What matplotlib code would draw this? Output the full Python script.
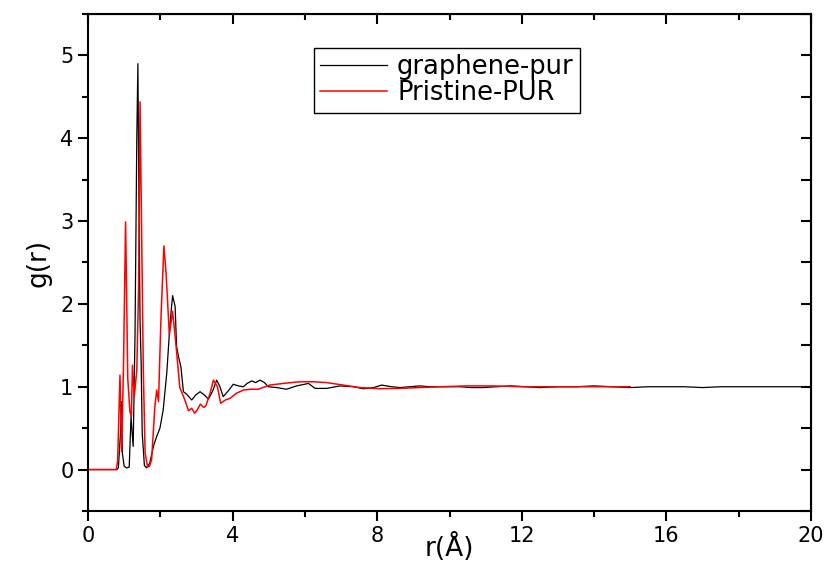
import matplotlib.pyplot as plt
from matplotlib.ticker import MultipleLocator

# radial distribution function
r_graphene = [0, 0.80, 0.84, 0.90, 0.93, 0.95, 1.00, 1.07, 1.14, 1.19, 1.22, 1.25, 1.30,
              1.35, 1.38, 1.41, 1.44, 1.47, 1.50, 1.56, 1.62, 1.71, 1.81, 1.90, 1.99, 2.08,
              2.18, 2.27, 2.34, 2.41, 2.45, 2.50, 2.57, 2.64, 2.73, 2.87, 2.98, 3.10, 3.22,
              3.33, 3.45, 3.56, 3.65, 3.74, 3.88, 4.02, 4.16, 4.30, 4.40, 4.53, 4.64, 4.76,
              4.88, 4.99, 5.22, 5.49, 5.77, 6.10, 6.28, 6.60, 6.97, 7.34, 7.62, 7.90, 8.12,
              8.40, 8.63, 8.90, 9.18, 9.45, 9.74, 10.0, 10.3, 10.6, 10.93, 11.3, 11.7, 12.1,
              12.5, 13.0, 13.5, 14.0, 14.5, 15.0, 15.5, 16.0, 16.5, 17.0, 17.5, 18.0, 18.5,
              19.0, 19.5, 20.0]
g_graphene = [0, 0, 0.02, 0.45, 0.82, 0.2, 0.04, 0.02, 0.03, 0.64, 0.45, 0.28, 1.6,
              4.0, 4.9, 3.2, 1.8, 1.29, 0.44, 0.05, 0.02, 0.08, 0.28, 0.40, 0.50, 0.72,
              1.17, 1.77, 2.10, 1.97, 1.49, 1.37, 1.24, 0.94, 0.91, 0.84, 0.90, 0.94, 0.90,
              0.85, 0.95, 1.08, 1.00, 0.88, 0.95, 1.03, 1.01, 1.00, 1.04, 1.07, 1.05, 1.08,
              1.05, 1.00, 0.99, 0.97, 1.01, 1.04, 0.98, 0.98, 1.01, 1.00, 0.976, 0.99, 1.02,
              1.0, 0.99, 1.0, 1.01, 1.0, 1.0, 1.0, 1.0, 0.99, 0.99, 1.0, 1.01, 1.0,
              0.99, 1.0, 1.0, 1.01, 1.0, 0.99, 1.0, 1.0, 1.0, 0.99, 1.0, 1.0, 1.0,
              1.0, 1.0, 1.0]

r_pristine = [0, 0.78, 0.82, 0.885, 0.93, 0.98, 1.04, 1.10, 1.16, 1.20, 1.23, 1.28, 1.35,
              1.40, 1.44, 1.48, 1.53, 1.58, 1.65, 1.70, 1.76, 1.85, 1.90, 1.95, 2.02, 2.10,
              2.16, 2.25, 2.34, 2.42, 2.54, 2.68, 2.78, 2.87, 2.95, 3.02, 3.11, 3.20, 3.26,
              3.37, 3.47, 3.58, 3.67, 3.80, 3.93, 4.10, 4.30, 4.50, 4.71, 5.03, 5.40, 5.86,
              6.23, 6.60, 7.06, 7.52, 8.08, 8.63, 9.18, 9.74, 10.47, 11.2, 12.0, 13.0, 14.0,
              15.0]
g_pristine = [0, 0, 0.1, 1.14, 0.22, 1.2, 2.99, 1.1, 0.70, 0.64, 1.26, 0.88, 1.20,
              2.2, 4.44, 3.0, 1.2, 0.2, 0.03, 0.04, 0.12, 0.76, 0.96, 0.82, 1.85, 2.70,
              2.37, 1.63, 1.91, 1.57, 0.99, 0.84, 0.71, 0.74, 0.68, 0.72, 0.79, 0.75, 0.77,
              0.91, 1.08, 1.0, 0.80, 0.84, 0.86, 0.92, 0.96, 0.97, 0.97, 1.02, 1.04, 1.06,
              1.06, 1.05, 1.02, 0.99, 0.976, 0.98, 0.99, 1.0, 1.01, 1.01, 1.0, 1.0, 1.0,
              1.0]

fig = plt.figure(figsize=(8.27, 5.63), dpi=100)
ax = fig.add_axes([0.1064, 0.0924, 0.8743, 0.8827])

ax.plot(r_graphene, g_graphene, color='black', linewidth=0.9, label='graphene-pur')
ax.plot(r_pristine, g_pristine, color='red', linewidth=1.1, label='Pristine-PUR')

ax.set_xlim(0, 20)
ax.set_ylim(-0.5, 5.5)
ax.xaxis.set_major_locator(MultipleLocator(4))
ax.xaxis.set_minor_locator(MultipleLocator(2))
ax.yaxis.set_major_locator(MultipleLocator(1))
ax.yaxis.set_minor_locator(MultipleLocator(0.5))

for s in ax.spines.values():
    s.set_linewidth(1.5)
ax.tick_params(which='major', direction='out', length=7, width=1.5, labelsize=15)
ax.tick_params(which='minor', direction='out', length=4, width=1.5)

# inward ticks on top and right, no labels
top = ax.secondary_xaxis('top')
top.xaxis.set_major_locator(MultipleLocator(4))
top.xaxis.set_minor_locator(MultipleLocator(2))
top.tick_params(which='major', direction='in', length=7, width=1.5, labeltop=False)
top.tick_params(which='minor', direction='in', length=4, width=1.5)
right = ax.secondary_yaxis('right')
right.yaxis.set_major_locator(MultipleLocator(1))
right.yaxis.set_minor_locator(MultipleLocator(0.5))
right.tick_params(which='both', direction='in', length=7, width=1.5, labelright=False)

ax.set_ylabel('g(r)', fontsize=19, labelpad=6)
ax.set_xlabel('r(Å)', fontsize=19)
ax.xaxis.set_label_coords(0.5, -0.045)

leg = ax.legend(loc='upper left', bbox_to_anchor=(0.312, 0.932), borderaxespad=0,
                fontsize=18.5, fancybox=False, edgecolor='black', framealpha=1,
                handlelength=2.6, handletextpad=0.4, labelspacing=0.0, borderpad=0.25)
leg.get_frame().set_linewidth(1.0)

fig.savefig('out.png', dpi=100)
